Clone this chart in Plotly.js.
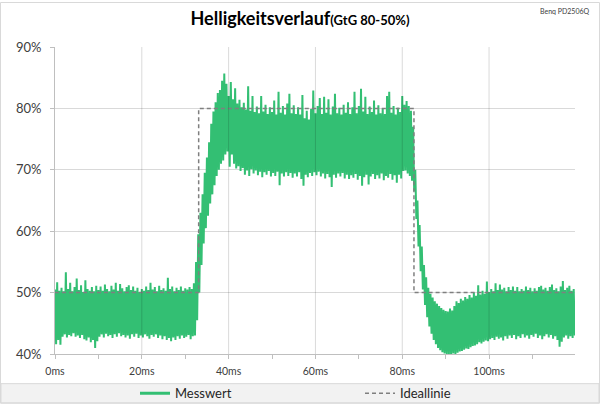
<!DOCTYPE html>
<html>
<head>
<meta charset="utf-8">
<script src="https://cdn.plot.ly/plotly-3.0.1.min.js"></script>
<style>html,body{margin:0;padding:0;background:#fff;overflow:hidden;}#chart{width:600px;height:420px;}</style>
</head>
<body>
<div id="chart"></div>
<script>
// Messwert: upper/lower sample envelope read every 0.5 ms (0 ... 119.5 ms)
const sampleStep = 0.5;
const messHigh = [
  50.5,51.7,50.3,50.8,50.2,53.3,50.6,51.6,50.2,50.9,
  52.3,50.4,51.2,50.1,52.0,50.6,50.3,50.9,50.2,51.1,
  50.4,51.0,50.3,51.3,50.6,50.2,51.1,50.5,51.6,50.3,
  51.4,50.7,50.2,50.9,51.2,50.4,51.0,50.3,50.8,50.1,
  50.6,50.3,51.0,50.4,51.6,50.5,50.9,50.2,51.1,50.4,
  50.7,50.3,52.4,50.6,51.0,50.2,50.8,50.4,51.0,50.3,
  50.7,50.5,50.9,50.6,
  51.5,55.0,59.5,63.0,66.0,69.5,72.0,74.5,77.5,79.5,81.0,82.5,83.0,84.5,85.7,84.0,82.0,
  84.3,81.5,83.3,80.8,81.4,80.2,80.9,79.8,83.6,79.6,
  82.0,79.4,80.3,79.2,82.0,79.5,80.6,79.1,80.2,79.4,
  81.3,79.0,82.7,79.3,80.4,79.0,80.8,82.4,79.2,80.5,
  79.1,80.2,79.0,82.2,78.4,79.6,78.2,79.9,82.9,79.2,
  80.4,81.7,79.1,81.9,79.3,81.5,79.0,80.3,82.4,79.2,
  80.1,79.0,80.6,79.3,81.0,79.1,80.2,82.7,79.2,80.4,
  83.2,79.5,81.9,79.1,80.3,79.4,81.3,79.0,80.5,79.2,
  80.0,79.1,82.0,82.7,79.3,80.4,79.0,80.1,79.4,82.0,
  80.6,81.2,80.4,79.6,
  77.0,70.0,65.0,61.0,57.5,54.5,52.5,50.8,49.8,49.2,
  48.6,48.2,47.8,47.5,47.2,47.0,46.9,47.4,47.1,47.8,
  48.6,48.3,49.0,48.7,49.3,49.0,49.6,49.2,50.0,49.5,
  51.2,49.7,50.3,49.8,51.8,50.1,50.6,50.2,51.5,50.4,
  51.3,50.5,50.8,50.2,50.9,50.4,51.0,50.3,50.9,50.2,
  50.6,50.3,51.0,50.4,50.8,50.2,50.7,50.3,50.9,51.1,
  50.5,50.8,50.3,50.9,51.3,50.4,50.7,50.2,51.0,51.9,
  50.4,50.8,51.1,50.3,50.6
];
const messLow = [
  41.6,42.3,41.5,42.8,43.2,42.7,43.1,42.9,43.4,42.8,
  43.0,42.6,43.1,42.4,42.2,42.7,41.9,42.3,41.0,42.1,
  42.8,43.2,42.7,43.3,42.9,43.1,42.6,43.2,42.8,43.4,
  42.9,43.1,42.7,43.0,42.5,43.2,42.8,43.3,42.6,43.0,
  42.7,43.2,42.9,42.5,43.1,42.8,43.2,42.6,43.0,42.4,
  42.9,42.3,42.6,42.1,42.7,42.3,42.9,42.5,43.0,42.6,
  42.8,43.1,42.4,42.9,
  43.0,45.5,50.0,54.5,58.0,60.5,62.5,64.5,66.0,67.5,69.0,70.0,71.0,71.5,72.5,73.0,70.5,
  72.5,71.0,70.2,70.6,69.8,70.3,69.2,69.9,69.0,70.1,
  69.4,69.9,69.1,69.7,68.8,69.6,69.2,69.8,68.9,69.5,
  69.0,69.7,67.5,69.4,68.9,69.6,69.0,69.5,68.7,69.4,
  68.9,69.6,68.5,67.4,69.2,68.8,69.5,69.0,69.6,69.1,
  69.7,68.9,69.4,68.6,69.3,68.8,67.2,69.2,68.7,69.4,
  68.9,69.5,68.6,69.2,68.5,69.1,68.7,69.3,68.4,69.0,
  67.4,68.8,69.2,67.6,68.9,69.3,68.5,69.1,68.6,69.4,
  68.3,69.0,68.7,69.3,68.4,69.1,67.9,69.2,68.6,69.8,
  69.9,69.4,69.0,68.2,
  66.5,62.0,57.5,53.5,50.5,48.0,46.0,44.5,43.3,42.3,
  41.6,41.0,40.6,40.3,40.1,40.0,40.0,40.0,40.1,40.0,
  40.2,40.4,40.5,40.7,40.9,40.8,41.1,41.3,41.4,41.6,
  41.9,41.7,42.0,42.2,42.1,42.4,42.6,42.3,42.8,42.5,
  42.7,42.2,42.9,42.5,43.0,42.6,43.1,42.4,42.9,42.6,
  43.2,42.7,43.0,42.5,43.1,42.8,43.3,42.6,43.0,42.4,
  42.9,43.2,42.7,43.1,42.5,42.9,42.3,41.2,42.0,42.7,
  43.0,42.5,42.9,42.6,43.0
];
// Ideallinie
const idealX = [0, 33.1, 33.1, 82.7, 82.7, 120];
const idealY = [50, 50, 80, 80, 50, 50];
// Axes
const xTicks = [0, 20, 40, 60, 80, 100];
const xTickText = ['0ms', '20ms', '40ms', '60ms', '80ms', '100ms'];
const xGrid = [20, 40, 60, 80, 100];
const yTicks = [40, 50, 60, 70, 80, 90];
const yTickText = ['40%', '50%', '60%', '70%', '80%', '90%'];
const seriesNames = ['Messwert', 'Ideallinie'];

const mx = [], my = [];
for (let i = 0; i < messHigh.length; i++) {
  mx.push(i * sampleStep); my.push(messHigh[i]);
  mx.push(i * sampleStep + sampleStep / 2); my.push(messLow[i]);
}

const green = '#33BF73';
const traces = [
  {x: [null], y: [null], type: 'scatter', mode: 'lines', name: seriesNames[0],
   line: {color: green, width: 3}, hoverinfo: 'skip'},
  {x: mx, y: my, type: 'scatter', mode: 'lines', name: seriesNames[0], showlegend: false,
   line: {color: green, width: 2, simplify: false}, hoverinfo: 'skip'},
  {x: idealX, y: idealY, type: 'scatter', mode: 'lines', name: seriesNames[1],
   line: {color: '#7f7f7f', width: 1.5, dash: '4px,3px'}, hoverinfo: 'skip'}
];

const L = 55, R = 25, T = 47, B = 52, W = 600, H = 420;
const pw = W - L - R, ph = H - T - B;
const px = v => (v - L) / pw;
const py = v => (H - B - v) / ph;

const shapes = [
  {type: 'rect', xref: 'paper', yref: 'paper', x0: px(1), x1: px(599), y0: py(419), y1: py(399),
   fillcolor: '#f2f2f2', line: {color: '#d9d9d9', width: 1}, layer: 'below'},
  {type: 'rect', xref: 'paper', yref: 'paper', x0: px(0.5), x1: px(599.5), y0: py(419.5), y1: py(0.5),
   fillcolor: 'rgba(0,0,0,0)', line: {color: '#d9d9d9', width: 1}, layer: 'below'}
];
xGrid.forEach(v => shapes.push({type: 'line', xref: 'x', yref: 'paper', x0: v, x1: v, y0: 0, y1: 1,
  line: {color: 'rgba(0,0,0,0.15)', width: 1}, layer: 'above'}));

const layout = {
  width: W, height: H,
  margin: {l: L, r: R, t: T, b: B, pad: 0},
  paper_bgcolor: '#ffffff', plot_bgcolor: '#ffffff',
  font: {family: 'Lato, "Open Sans", sans-serif', color: '#404040'},
  title: {
    text: '<b>Helligkeitsverlauf</b><b><span style="font-size:13px">(GtG 80-50%)</span></b>',
    x: 0.5, xanchor: 'center', y: 1 - 19 / H, yanchor: 'middle',
    font: {family: 'Lato, "Open Sans", sans-serif', size: 18, color: '#000000'}
  },
  xaxis: {
    range: [0, 119.8], tickmode: 'array', tickvals: xTicks, ticktext: xTickText,
    ticks: 'outside', ticklen: 4, tickcolor: '#bfbfbf', showgrid: false,
    showline: true, linecolor: '#bfbfbf', linewidth: 1, zeroline: false,
    tickfont: {size: 10.5, color: '#404040'}, ticklabelstandoff: 3,
    minor: {dtick: 10, tick0: 0, ticks: 'outside', ticklen: 4, tickcolor: '#bfbfbf', showgrid: false},
    fixedrange: true
  },
  yaxis: {
    range: [40, 90], tickmode: 'array', tickvals: yTicks, ticktext: yTickText,
    ticks: 'outside', ticklen: 4, tickcolor: '#bfbfbf', showgrid: true, gridcolor: '#d9d9d9',
    showline: true, linecolor: '#bfbfbf', linewidth: 1, zeroline: false,
    tickfont: {size: 13, color: '#404040'}, ticklabelstandoff: 6, fixedrange: true
  },
  showlegend: true,
  legend: {
    orientation: 'h', x: px(135), xanchor: 'left', y: py(409), yanchor: 'middle',
    bgcolor: 'rgba(0,0,0,0)', font: {size: 13, color: '#262626'}, entrywidth: 180,
    traceorder: 'normal'
  },
  shapes: shapes,
  annotations: [
    {text: 'Benq PD2506Q', xref: 'paper', yref: 'paper', x: px(592), y: py(9),
     xanchor: 'right', yanchor: 'middle', showarrow: false,
     font: {size: 7, color: '#404040', family: 'Lato, "Open Sans", sans-serif'}}
  ]
};

Plotly.newPlot('chart', traces, layout, {displayModeBar: false, staticPlot: true});
</script>
</body>
</html>
